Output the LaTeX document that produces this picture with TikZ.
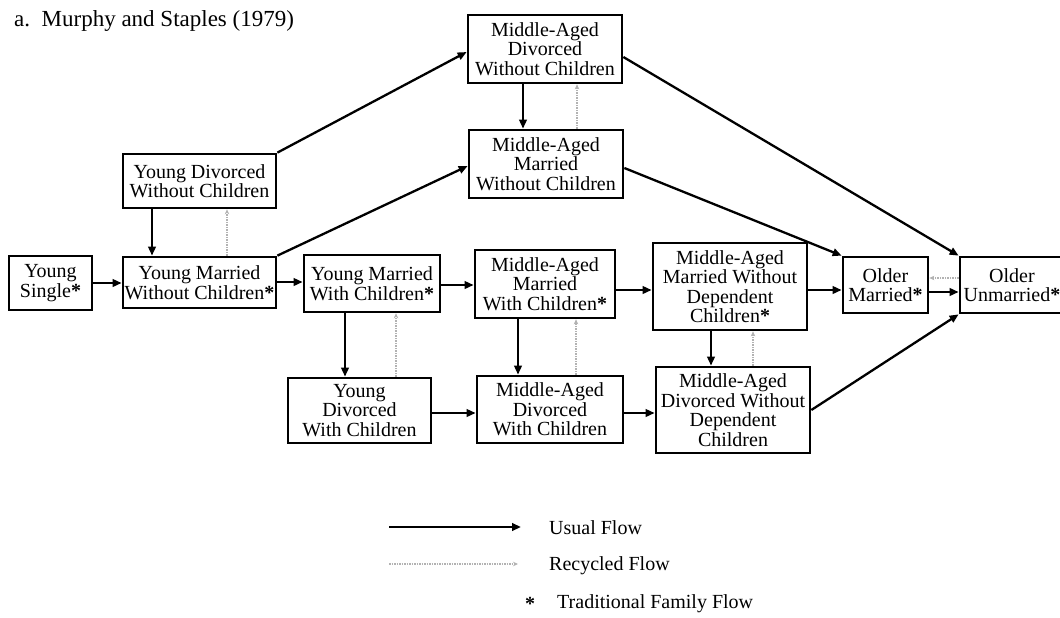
\documentclass[tikz,border=0pt]{standalone}
\usepackage{fontspec}
\setmainfont{Liberation Serif}
\usetikzlibrary{arrows.meta,calc}
\newcommand{\tstar}{{\bfseries *}}
\tikzset{
 box/.style={draw, line width=2.7pt, align=center, inner sep=1pt, font=\fontsize{20pt}{19.5pt}\selectfont},
 usual/.style={line width=2.3pt, -{Triangle[length=9pt,width=7.5pt]}},
 recyc/.style={draw=gray!60, line width=1.5pt, densely dotted, -{Stealth[length=5pt,width=4.5pt]}},
 lab/.style={font=\fontsize{20pt}{19.5pt}\selectfont, anchor=west, inner sep=0pt},
}
\begin{document}
\begin{tikzpicture}[x=1pt,y=-1pt]
\useasboundingbox (0,0) rectangle (1060,618);
\node[anchor=west, inner sep=0pt, font=\fontsize{23pt}{23pt}\selectfont] (title) at (14,21) {a.\ \ Murphy and Staples (1979)};

\node[box, minimum width=83pt, minimum height=54pt] (ys) at (50.5,283) {Young\\Single\tstar};
\node[box, minimum width=153pt, minimum height=51pt] (ymwoc) at (199.5,282.5) {Young Married\\Without Children\tstar};
\node[box, minimum width=153pt, minimum height=54pt] (ydwoc) at (199.5,181) {Young Divorced\\Without Children};
\node[box, minimum width=136pt, minimum height=57pt] (ymwc) at (372,283.5) {Young Married\\With Children\tstar};
\node[box, minimum width=143pt, minimum height=65pt] (ydwc) at (359.5,410.5) {Young\\Divorced\\With Children};
\node[box, minimum width=140pt, minimum height=68pt] (mamwc) at (545,284) {Middle-Aged\\Married\\With Children\tstar};
\node[box, minimum width=146pt, minimum height=67pt] (madwc) at (550,409.5) {Middle-Aged\\Divorced\\With Children};
\node[box, minimum width=154pt, minimum height=87pt] (mamwodc) at (730,286.5) {Middle-Aged\\Married Without\\Dependent\\Children\tstar};
\node[box, minimum width=154pt, minimum height=86pt] (madwodc) at (733,410) {Middle-Aged\\Divorced Without\\Dependent\\Children};
\node[box, minimum width=85pt, minimum height=56pt] (om) at (885.5,285) {Older\\Married\tstar};
\node[box, minimum width=104pt, minimum height=56pt] (ou) at (1012,285) {Older\\Unmarried\tstar};
\node[box, minimum width=154pt, minimum height=68pt] (madwoc) at (545,49) {Middle-Aged\\Divorced\\Without Children};
\node[box, minimum width=154pt, minimum height=68pt] (mamwoc) at (546,164) {Middle-Aged\\Married\\Without Children};

% usual flows
\draw[usual] (ys.east) -- ([yshift=-0.5pt]ymwoc.west);
\draw[usual] ([yshift=0.5pt]ymwoc.east) -- ([yshift=1.5pt]ymwc.west);
\draw[usual] ([xshift=-47.5pt]ydwoc.south) -- ([xshift=-47.5pt]ymwoc.north);
\draw[usual] (ydwoc.north east) -- ([yshift=-3pt]madwoc.west);
\draw[usual] (ymwoc.north east) -- ([yshift=-2pt]mamwoc.west);
\draw[usual] ([xshift=-22pt]madwoc.south) -- ([xshift=-23pt]mamwoc.north);
\draw[usual] ([yshift=-8pt]madwoc.east) -- (ou.north west);
\draw[usual] ([yshift=-4pt]mamwoc.east) -- (om.north west);
\draw[usual] ([yshift=-1.5pt]ymwc.east) -- ([yshift=-1pt]mamwc.west);
\draw[usual] ([xshift=-27pt]ymwc.south) -- ([xshift=-14.5pt]ydwc.north);
\draw[usual] ([yshift=-2.5pt]ydwc.east) -- ([yshift=-3.5pt]madwc.west);
\draw[usual] ([yshift=-6pt]mamwc.east) -- ([yshift=-3.5pt]mamwodc.west);
\draw[usual] ([xshift=-27pt]mamwc.south) -- ([xshift=-32pt]madwc.north);
\draw[usual] ([yshift=-3.5pt]madwc.east) -- ([yshift=-3pt]madwodc.west);
\draw[usual] ([xshift=-19pt]mamwodc.south) -- ([xshift=-22pt]madwodc.north);
\draw[usual] ([yshift=-3.5pt]mamwodc.east) -- ([yshift=-5pt]om.west);
\draw[usual] ([yshift=-7pt]om.east) -- ([yshift=-7pt]ou.west);
\draw[usual] (madwodc.east) -- (ou.south west);

% recycled flows
\draw[recyc] ([xshift=27.5pt]ymwoc.north) -- ([xshift=27.5pt]ydwoc.south);
\draw[recyc] ([xshift=31pt]mamwoc.north) -- ([xshift=32pt]madwoc.south);
\draw[recyc] ([xshift=36.5pt]ydwc.north) -- ([xshift=24pt]ymwc.south);
\draw[recyc] ([xshift=26pt]madwc.north) -- ([xshift=31pt]mamwc.south);
\draw[recyc] ([xshift=20pt]madwodc.north) -- ([xshift=23pt]mamwodc.south);
\draw[recyc] ([yshift=7pt]ou.west) -- ([yshift=7pt]om.east);

% legend
\coordinate (l1a) at (389,527);
\coordinate (l1b) at (521,527);
\coordinate (l2a) at (389,564);
\coordinate (l2b) at (518,564);
\draw[usual] (l1a) -- (l1b);
\node[lab] (t1) at (549,528) {Usual Flow};
\draw[recyc] (l2a) -- (l2b);
\node[lab] (t2) at (549,566) {Recycled Flow};
\node[anchor=center, inner sep=0pt, font=\fontsize{20pt}{19.5pt}\selectfont] (star) at (530,604) {\tstar};
\node[lab] (t3) at (557,604) {Traditional Family Flow};
\end{tikzpicture}
\end{document}
